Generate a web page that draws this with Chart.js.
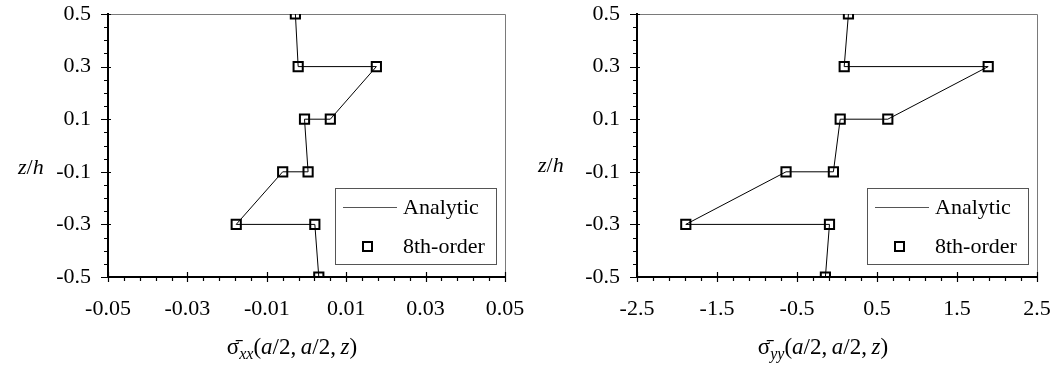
<!DOCTYPE html>
<html>
<head>
<meta charset="utf-8">
<script src="https://cdn.jsdelivr.net/npm/chart.js@4"></script>
<style>
  body { margin: 0; background: #fff; }
  #wrap { position: relative; width: 1055px; height: 369px; font-family: 'Liberation Serif', 'Times New Roman', serif; color: #000; }
  canvas { position: absolute; top: 0; }
  .lbl { position: absolute; font-size: 22px; white-space: nowrap; line-height: 1; }
  .ttl { transform: translateX(-50%); font-size: 23px; }
  sub { font-size: 16px; font-style: italic; vertical-align: -5px; line-height: 0; }
  i { font-style: italic; }
</style>
</head>
<body>
<div id="wrap">
  <canvas id="grafico-1" width="527" height="369" style="left:0"></canvas>
  <canvas id="grafico-2" width="528" height="369" style="left:527px"></canvas>
  <div class="lbl" style="left:18px; top:156px"><i>z</i>/<i>h</i></div>
  <div class="lbl" style="left:538px; top:154px"><i>z</i>/<i>h</i></div>
  <div class="lbl ttl" style="left:292px; top:335px">σ&#772;<sub>xx</sub>(<i>a</i>/2,&#8201;<i>a</i>/2,&#8201;<i>z</i>)</div>
  <div class="lbl ttl" style="left:823px; top:335px">σ&#772;<sub>yy</sub>(<i>a</i>/2,&#8201;<i>a</i>/2,&#8201;<i>z</i>)</div>
</div>
<script>
// through-thickness positions (z/h), each interface appears twice
const zVals = [0.5, 0.3, 0.3, 0.1, 0.1, -0.1, -0.1, -0.3, -0.3, -0.5];

// sigma_xx(a/2, a/2, z)
const sxxAnalytic = [-0.0028, -0.0021, 0.0176, 0.0060, -0.0005, 0.0004, -0.0060, -0.0177, 0.0021, 0.0031];
const sxx8th      = [-0.0028, -0.0021, 0.0176, 0.0060, -0.0005, 0.0004, -0.0060, -0.0177, 0.0021, 0.0031];

// sigma_yy(a/2, a/2, z)
const syyAnalytic = [0.143, 0.090, 1.890, 0.635, 0.040, -0.045, -0.637, -1.890, -0.094, -0.145];
const syy8th      = [0.143, 0.090, 1.890, 0.635, 0.040, -0.045, -0.637, -1.890, -0.094, -0.145];

const seriesNames = ['Analytic', '8th-order'];

Chart.defaults.font.family = "'Liberation Serif', 'Times New Roman', serif";
Chart.defaults.font.size = 22;
Chart.defaults.color = '#000';

function pontos(xs) {
  return xs.map((v, i) => ({x: v, y: zVals[i]}));
}

function ehMaior(v, min, passo) {
  const q = (v - min) / passo;
  return Math.abs(q - Math.round(q)) < 1e-6;
}

// frame, crossing major ticks, short minor ticks and the boxed legend
function enfeites(xMin, xMaior, yMin, yMaior) {
  return {
    id: 'enfeites',
    beforeDatasetsDraw(chart) {
      const {ctx, chartArea: a} = chart;
      ctx.save();
      ctx.strokeStyle = '#7a7a7a';
      ctx.lineWidth = 1;
      ctx.beginPath();
      ctx.moveTo(a.left, a.top + 0.5);
      ctx.lineTo(a.right + 0.5, a.top + 0.5);
      ctx.lineTo(a.right + 0.5, a.bottom);
      ctx.stroke();
      ctx.restore();
    },
    afterDraw(chart) {
      const {ctx, chartArea: a, scales} = chart;
      ctx.save();
      ctx.strokeStyle = '#000';
      ctx.lineWidth = 1.2;
      ctx.beginPath();
      scales.x.ticks.forEach(t => {
        const px = Math.round(scales.x.getPixelForValue(t.value)) + 0.5;
        const m = ehMaior(t.value, xMin, xMaior);
        ctx.moveTo(px, a.bottom - (m ? 5 : 0));
        ctx.lineTo(px, a.bottom + (m ? 5 : 4));
      });
      scales.y.ticks.forEach(t => {
        const py = Math.round(scales.y.getPixelForValue(t.value)) + 0.5;
        const m = ehMaior(t.value, yMin, yMaior);
        ctx.moveTo(a.left - (m ? 7 : 4), py);
        ctx.lineTo(a.left + (m ? 3 : 0), py);
      });
      ctx.stroke();

      // legend
      const bx = Math.round(a.right) - 170, by = 188, bw = 161, bh = 76;
      ctx.strokeStyle = '#555';
      ctx.lineWidth = 1;
      ctx.strokeRect(bx + 0.5, by + 0.5, bw, bh);
      const ds = chart.data.datasets;
      ctx.beginPath();
      ctx.moveTo(bx + 8, by + 19.5);
      ctx.lineTo(bx + 62, by + 19.5);
      ctx.stroke();
      ctx.strokeStyle = '#000';
      ctx.lineWidth = 2;
      ctx.strokeRect(bx + 28, by + 54, 9, 9);
      ctx.fillStyle = '#000';
      ctx.font = "22px 'Liberation Serif', 'Times New Roman', serif";
      ctx.textBaseline = 'middle';
      ctx.fillText(ds[0].label, bx + 68, by + 20);
      ctx.fillText(ds[1].label, bx + 68, by + 59);
      ctx.restore();
    }
  };
}

// invisible tick marks only keep the labels away from the axes
const semGrade = tl => ({
  display: true, drawOnChartArea: false, drawTicks: true,
  tickLength: tl, color: 'rgba(0,0,0,0)', tickColor: 'rgba(0,0,0,0)'
});

function criarGrafico(idGrafico, analitico, oitava, eixoX, larguraY, padDir) {
  const ctx = document.getElementById(idGrafico).getContext('2d');
  return new Chart(ctx, {
    type: 'scatter',
    data: {
      datasets: [{
        label: seriesNames[0],
        data: pontos(analitico),
        showLine: true,
        borderColor: '#000',
        borderWidth: 1,
        pointRadius: 0,
        order: 1
      }, {
        label: seriesNames[1],
        data: pontos(oitava),
        showLine: false,
        pointStyle: 'rect',
        pointRadius: 6.5,
        pointBorderWidth: 2,
        pointBorderColor: '#000',
        pointBackgroundColor: 'rgba(0,0,0,0)',
        order: 0
      }]
    },
    options: {
      responsive: false,
      animation: false,
      events: [],
      layout: {padding: {left: 0, right: padDir, top: 14, bottom: 0}},
      plugins: {legend: {display: false}, tooltip: {enabled: false}},
      scales: {
        x: {
          type: 'linear',
          min: eixoX.min, max: eixoX.max,
          grid: semGrade(19),
          border: {color: '#000', width: 2},
          afterFit: s => { s.height = 92; },
          ticks: {
            stepSize: eixoX.menor,
            autoSkip: false,
            maxRotation: 0,
            padding: 0,
            callback: v => ehMaior(v, eixoX.min, eixoX.maior) ? v.toFixed(eixoX.casas) : ''
          }
        },
        y: {
          type: 'linear',
          min: -0.5, max: 0.5,
          grid: semGrade(17),
          border: {color: '#000', width: 2},
          afterFit: s => { s.width = larguraY; },
          ticks: {
            stepSize: 0.05,
            autoSkip: false,
            padding: 0,
            callback: v => ehMaior(v, -0.5, 0.2) ? v.toFixed(1) : ''
          }
        }
      }
    },
    plugins: [enfeites(eixoX.min, eixoX.maior, -0.5, 0.2)]
  });
}

criarGrafico('grafico-1', sxxAnalytic, sxx8th,
  {min: -0.05, max: 0.05, maior: 0.02, menor: 0.004, casas: 2}, 108, 22);
criarGrafico('grafico-2', syyAnalytic, syy8th,
  {min: -2.5, max: 2.5, maior: 1.0, menor: 0.2, casas: 1}, 110, 18);
</script>
</body>
</html>
